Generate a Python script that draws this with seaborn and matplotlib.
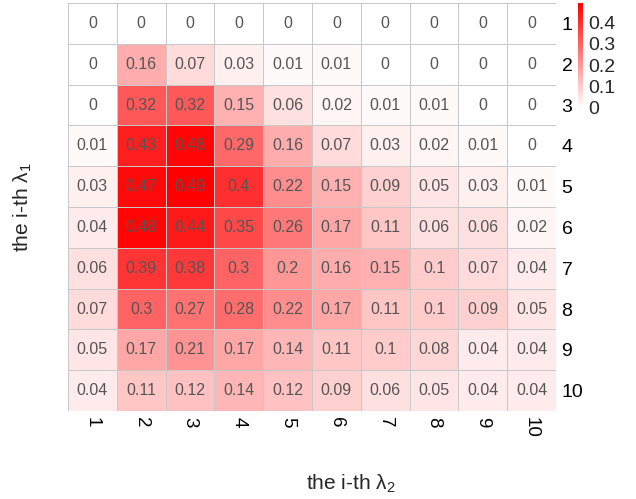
import numpy as np
import pandas as pd
import matplotlib
matplotlib.use("Agg")
import matplotlib.pyplot as plt
from matplotlib.colors import LinearSegmentedColormap
import seaborn as sns

# Frequency of (i-th lambda_1, i-th lambda_2) selections
lambda1_idx = [1, 2, 3, 4, 5, 6, 7, 8, 9, 10]
lambda2_idx = [1, 2, 3, 4, 5, 6, 7, 8, 9, 10]
row1 = [0, 0, 0, 0, 0, 0, 0, 0, 0, 0]
row2 = [0, 0.16, 0.07, 0.03, 0.01, 0.01, 0, 0, 0, 0]
row3 = [0, 0.32, 0.32, 0.15, 0.06, 0.02, 0.01, 0.01, 0, 0]
row4 = [0.01, 0.43, 0.48, 0.29, 0.16, 0.07, 0.03, 0.02, 0.01, 0]
row5 = [0.03, 0.47, 0.49, 0.4, 0.22, 0.15, 0.09, 0.05, 0.03, 0.01]
row6 = [0.04, 0.48, 0.44, 0.35, 0.26, 0.17, 0.11, 0.06, 0.06, 0.02]
row7 = [0.06, 0.39, 0.38, 0.3, 0.2, 0.16, 0.15, 0.1, 0.07, 0.04]
row8 = [0.07, 0.3, 0.27, 0.28, 0.22, 0.17, 0.11, 0.1, 0.09, 0.05]
row9 = [0.05, 0.17, 0.21, 0.17, 0.14, 0.11, 0.1, 0.08, 0.04, 0.04]
row10 = [0.04, 0.11, 0.12, 0.14, 0.12, 0.09, 0.06, 0.05, 0.04, 0.04]
cbar_ticks = [0, 0.1, 0.2, 0.3, 0.4]

sns.set_style("white")
plt.rcParams["font.family"] = ["Liberation Sans", "DejaVu Sans"]
plt.rcParams["mathtext.fontset"] = "custom"
plt.rcParams["mathtext.rm"] = "Liberation Sans"
plt.rcParams["mathtext.it"] = "Liberation Sans"

data = pd.DataFrame([row1, row2, row3, row4, row5, row6, row7, row8, row9, row10],
                    index=lambda1_idx, columns=lambda2_idx)
labels = data.map(lambda v: f"{v:g}")

cmap = LinearSegmentedColormap.from_list("white_red", ["#ffffff", "#ff0000"])

fig = plt.figure(figsize=(6.36, 4.99), dpi=100)
ax = fig.add_axes([68 / 636, 1 - 411 / 499, 488 / 636, 408 / 499])
cax = fig.add_axes([578 / 636, 1 - 108 / 499, 5 / 636, 105 / 499])

sns.heatmap(data, ax=ax, cbar_ax=cax, cmap=cmap, vmin=0, vmax=0.49,
            annot=labels.values, fmt="", linewidths=0.6, linecolor="#c8c8c8",
            annot_kws={"color": "#555555", "fontsize": 11.5},
            cbar_kws={"ticks": cbar_ticks})

ax.yaxis.tick_right()
ax.set_yticklabels(lambda1_idx, rotation=0, fontsize=14, color="black")
ax.set_xticklabels(lambda2_idx, rotation=270, fontsize=13.5, color="black")
ax.tick_params(axis="both", length=0, pad=4)

ax.set_ylabel(r"the i-th λ$_1$", fontsize=15)
ax.set_xlabel(r"the i-th λ$_2$", fontsize=15)
ax.yaxis.set_label_position("left")
ax.yaxis.set_label_coords(-0.069, 0.5)
ax.xaxis.set_label_coords(0.58, -0.152)

cax.tick_params(length=0, labelsize=14, pad=4)
cax.set_yticklabels([f"{t:g}" for t in cbar_ticks])
for s in cax.spines.values():
    s.set_visible(False)
cbar = ax.collections[0].colorbar
cbar.outline.set_visible(False)

fig.savefig("out.png", dpi=100)
